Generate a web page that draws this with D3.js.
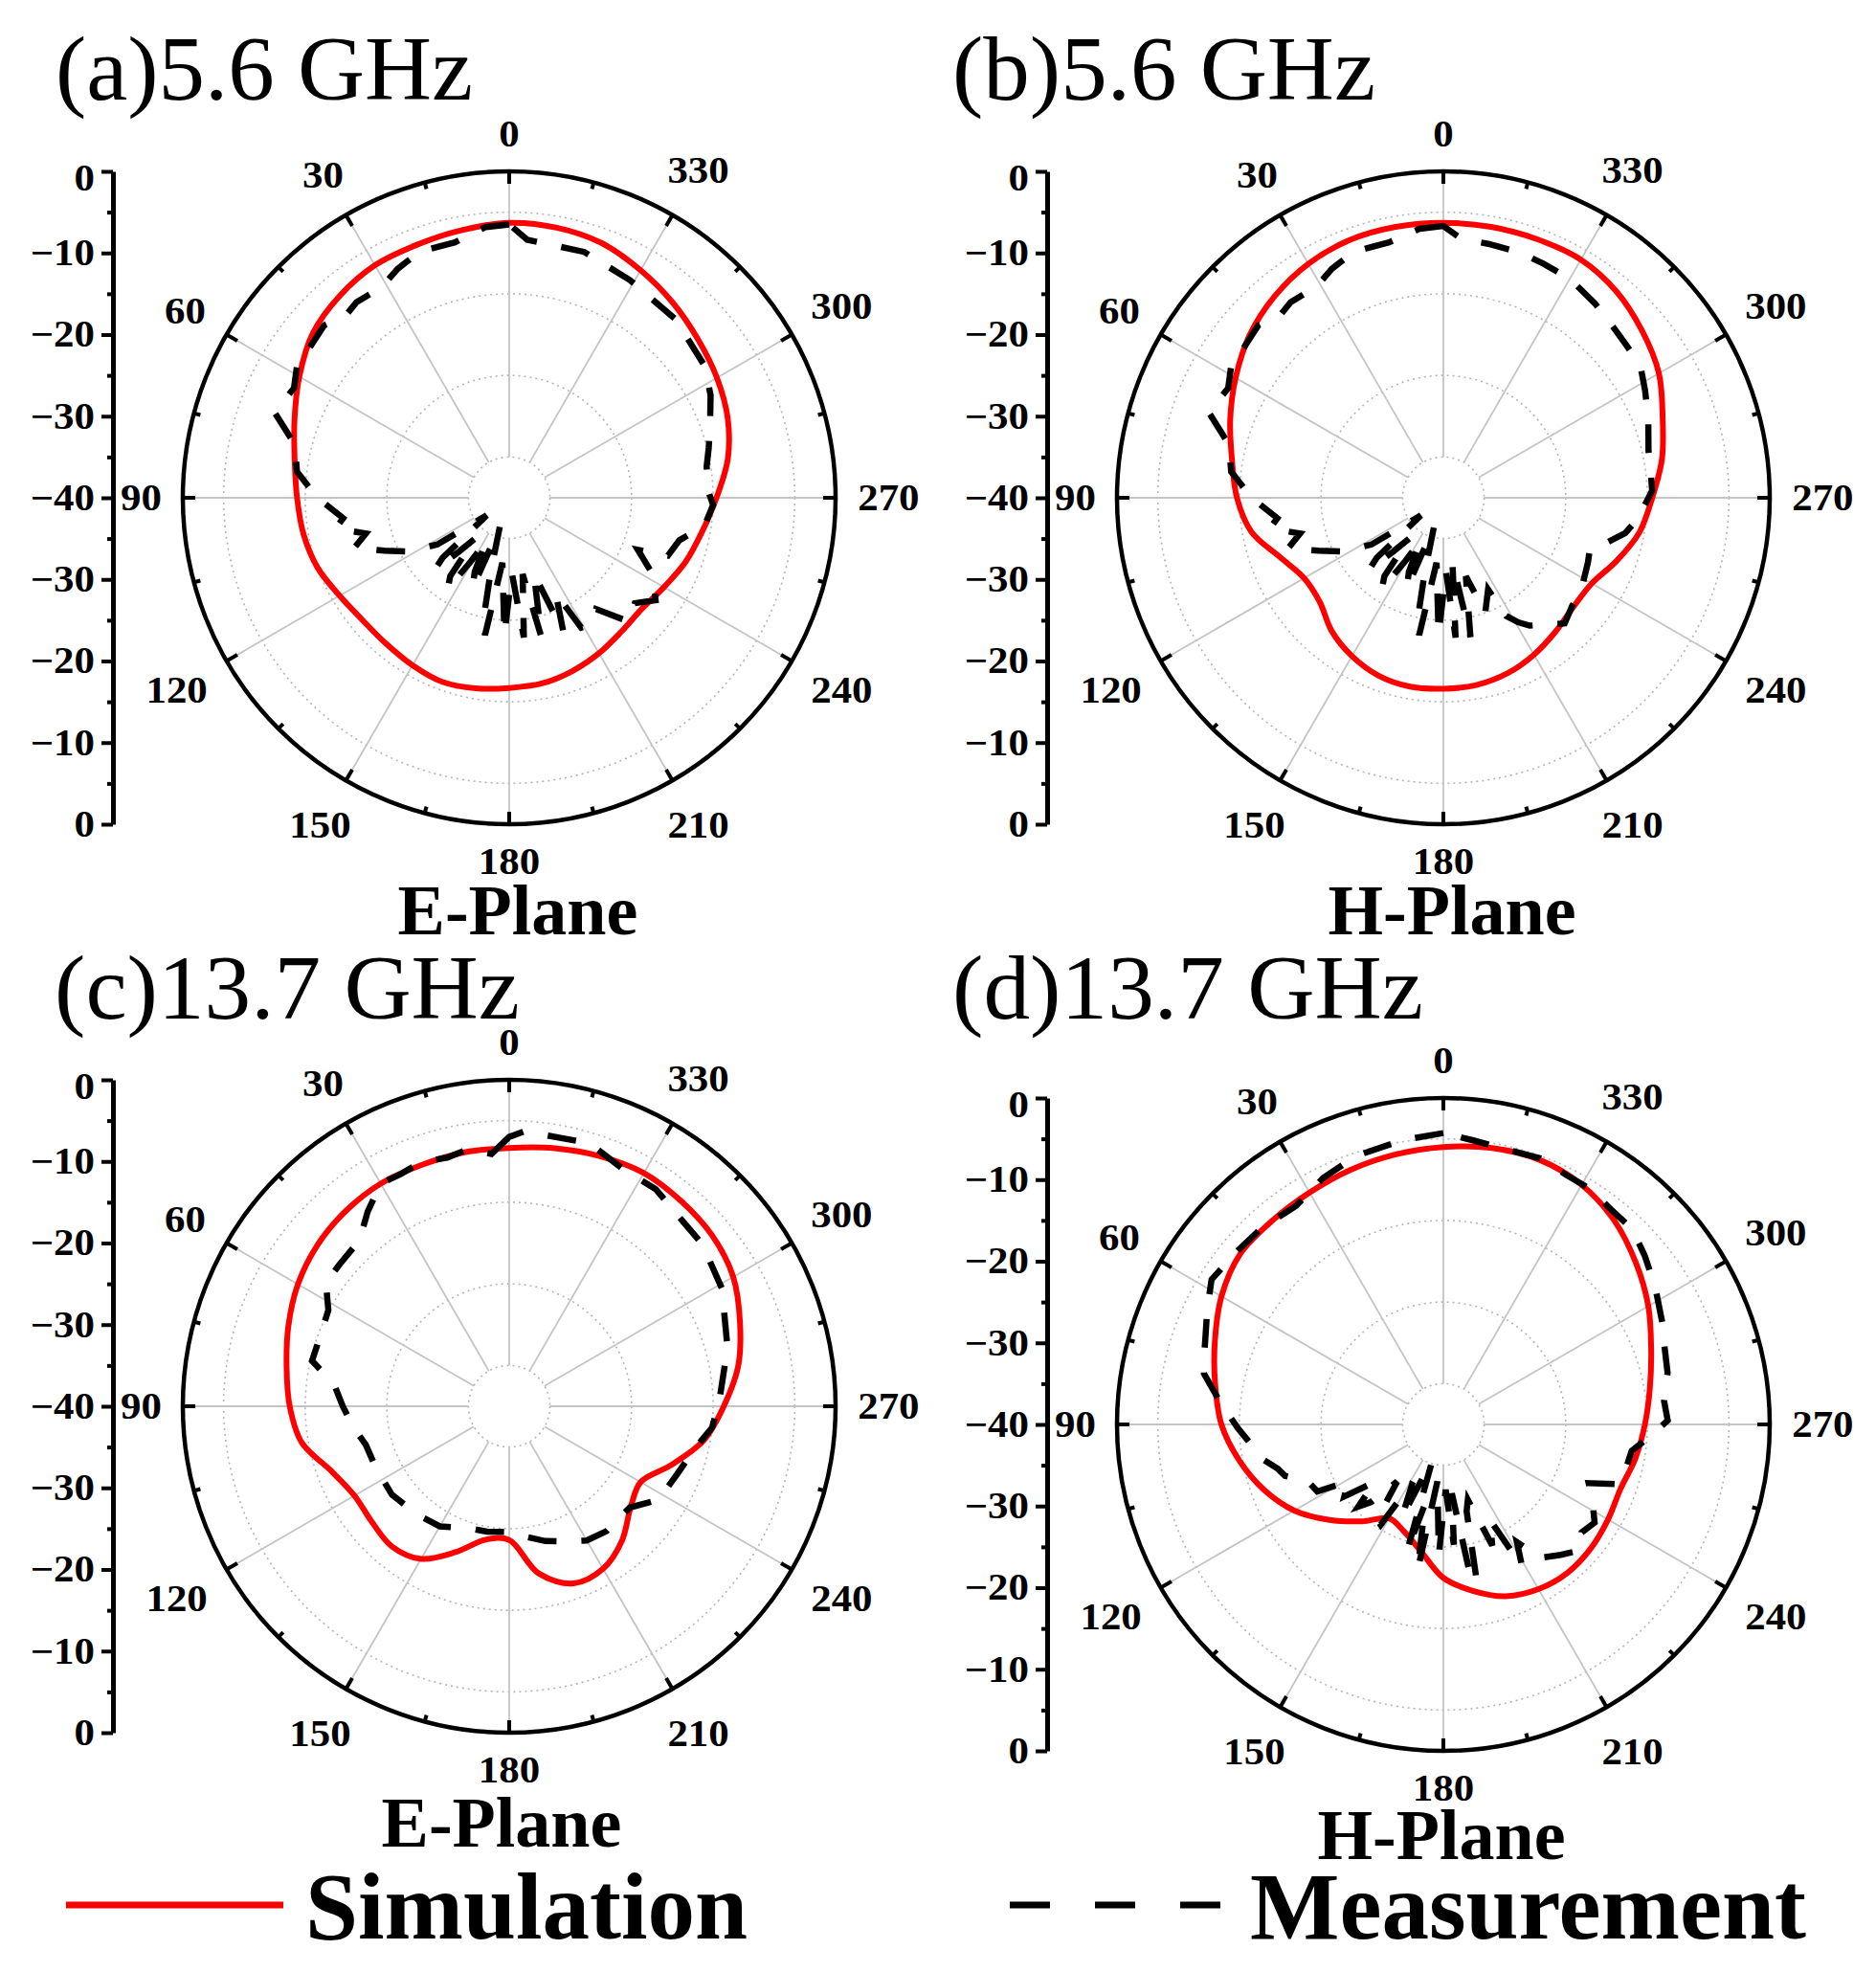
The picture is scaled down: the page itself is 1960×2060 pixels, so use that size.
<!DOCTYPE html>
<html>
<head>
<meta charset="utf-8">
<script src="https://cdn.jsdelivr.net/npm/d3@7"></script>
<style>
  body { margin: 0; background: #fff; }
  svg text { font-family: "Liberation Serif", "Times New Roman", serif; }
</style>
</head>
<body>
<svg id="chart" width="1960" height="2060"></svg>
<script>
// ---- data (dB values) ----
const simAngles = [0, 10, 20, 30, 40, 50, 60, 70, 80, 90, 100, 110, 120, 130, 140, 150, 160, 170,
  180, 190, 200, 210, 220, 230, 240, 250, 260, 270, 280, 290, 300, 310, 320, 330, 340, 350];

const simA = [-6.3, -6.7, -7.0, -7.1, -7.7, -8.6, -10.3, -12.0, -13.3, -14.0, -14.4, -15.0, -16.0, -16.6, -16.6, -16.3, -16.0, -16.3,
  -16.7, -16.9, -17.4, -18.0, -18.6, -18.8, -18.1, -17.0, -16.0, -14.6, -12.8, -11.5, -10.6, -9.8, -8.8, -7.8, -6.8, -6.4];
const simB = [-6.3, -6.3, -6.4, -6.9, -7.8, -9.0, -10.6, -12.2, -13.7, -14.7, -16.1, -18.7, -20.3, -20.2, -18.7, -17.6, -16.8, -16.5,
  -16.6, -16.7, -17.1, -17.8, -18.6, -19.2, -19.0, -17.4, -15.6, -14.4, -12.8, -11.4, -9.5, -8.2, -7.0, -6.3, -6.3, -6.3];
const simC = [-8.35, -8.4, -8.55, -8.5, -8.8, -9.3, -10.1, -11.2, -12.3, -13.1, -14.2, -16.8, -18.1, -18.0, -17.6, -18.4, -21.0, -23.4,
  -23.6, -19.2, -16.9, -17.0, -18.5, -20.6, -21.4, -18.9, -15.8, -13.7, -11.5, -9.9, -8.3, -7.5, -7.2, -7.0, -7.4, -7.9];
const simD = [-6.0, -6.4, -6.8, -7.2, -7.4, -7.5, -8.6, -10.2, -11.6, -12.8, -14.6, -16.6, -18.9, -21.8, -24.5, -26.7, -26.0, -24.2,
  -21.2, -19.3, -17.6, -16.7, -16.3, -16.4, -16.7, -16.9, -16.1, -15.3, -14.3, -12.9, -11.0, -9.2, -7.4, -6.1, -5.5, -5.6];

// measurement: [angle (deg), dB]
const measA = [[0, -6.5], [5, -6.7], [12, -8.0], [20, -7.9], [26, -8.8], [31, -9.8], [38, -9.6], [42, -10.0], [47, -9.0],
  [53, -9.4], [57, -9.1], [63, -10.4], [70, -9.4], [76, -12.9], [83, -13.8], [90, -16.5], [97, -19.5], [100, -18.4],
  [104, -21.9], [108, -20.0], [113, -23.4], [118, -26.0], [123, -29.5], [128, -36.5], [132, -29.0], [134, -27.4],
  [137, -31.0], [140, -33.5], [143, -28.0], [146, -26.5], [149, -31.0], [152, -34.0], [155, -30.0], [158, -28.0],
  [162, -36.3], [166, -30.5], [168, -25.0], [170, -22.9], [174, -32.0], [178, -23.2], [182, -30.8], [186, -22.8],
  [190, -30.5], [193, -22.5], [198, -30.2], [202, -22.3], [206, -27.0], [209, -21.8], [213, -21.5], [218, -22.7],
  [224, -18.9], [230, -19.9], [235, -18.1], [242, -20.1], [248, -23.0], [250, -19.3], [256, -18.5], [262, -15.8],
  [268, -15.0], [272, -15.6], [279, -15.5], [284, -14.8], [290, -13.8], [297, -12.3], [304, -11.1], [317, -10.1],
  [331, -9.5], [343, -8.5], [356, -8.3]];
const measB = [[0, -6.7], [5, -6.9], [12, -8.0], [20, -7.9], [26, -8.8], [31, -9.8], [38, -9.6], [42, -10.0], [47, -9.0],
  [53, -9.4], [57, -9.1], [63, -10.4], [70, -9.4], [76, -12.9], [83, -13.8], [90, -16.5], [97, -19.5], [100, -18.4],
  [104, -21.9], [108, -20.0], [113, -23.4], [118, -26.0], [123, -29.5], [128, -36.5], [132, -29.0], [134, -27.4],
  [137, -31.0], [140, -33.5], [143, -28.0], [146, -26.5], [149, -31.0], [152, -34.0], [155, -30.0], [158, -28.0],
  [162, -36.3], [166, -30.5], [168, -25.0], [170, -22.9], [174, -32.0], [178, -23.2], [182, -31.0], [185, -22.8],
  [188, -32.0], [191, -22.6], [196, -30.0], [200, -25.0], [206, -27.5], [208, -23.6], [211, -22.2], [214, -21.1],
  [219, -20.0], [224, -18.6], [230, -19.4], [236, -19.6], [239, -20.0], [246, -20.6], [251, -21.0], [254, -19.5],
  [259, -17.3], [264, -16.0], [272, -14.4], [277, -14.4], [283, -14.2], [291, -13.1], [298, -12.0], [304, -10.9],
  [310, -10.8], [315, -10.5], [322, -9.8], [330, -9.0], [337, -8.8], [343, -8.5], [350, -8.4], [356, -8.2]];
const measC = [[0, -7.0], [4, -9.0], [9, -8.1], [14, -8.6], [20, -8.2], [25, -8.6], [30, -8.5], [36, -10.5], [42, -12.6],
  [50, -12.9], [56, -12.9], [62, -14.9], [70, -15.3], [77, -15.2], [83, -18.4], [90, -19.6], [98, -20.8], [105, -21.8],
  [115, -22.0], [127, -22.0], [140, -22.6], [150, -23.0], [163, -24.3], [170, -24.4], [180, -24.6], [188, -23.8],
  [195, -22.9], [203, -22.0], [210, -21.0], [218, -20.6], [230, -20.7], [238, -18.4], [248, -17.8], [257, -16.7],
  [264, -15.0], [272, -14.2], [285, -12.3], [299, -10.2], [310, -9.1], [317, -8.9], [326, -7.9], [334, -7.8],
  [343, -6.3], [352, -6.5], [357, -6.3]];
const measD = [[0, -4.3], [8, -4.8], [18, -5.4], [26, -6.4], [34, -7.7], [43, -7.2], [50, -7.0], [58, -6.5], [64, -7.8],
  [69, -8.8], [74, -9.5], [78, -10.0], [84, -12.4], [91, -14.8], [97, -16.6], [101, -17.5], [105, -19.0], [108, -19.6],
  [113, -22.0], [118, -22.5], [121, -26.4], [126, -25.0], [130, -29.0], [134, -25.5], [137, -27.0], [141, -31.0],
  [145, -25.8], [148, -25.5], [152, -32.0], [156, -27.5], [160, -34.0], [163, -35.3], [164, -23.9], [167, -30.0],
  [170, -21.9], [174, -33.0], [178, -24.0], [182, -32.0], [185, -25.2], [187, -31.5], [190, -22.0], [192, -20.2],
  [195, -29.0], [198, -30.3], [202, -24.0], [206, -27.0], [209, -20.1], [212, -23.0], [216, -19.8], [222, -18.5],
  [227, -17.3], [232, -18.5], [237, -17.9], [243, -19.5], [248, -20.8], [251, -17.5], [256, -17.0], [262, -16.7],
  [267, -14.5], [271, -12.5], [276, -12.8], [283, -11.8], [290, -11.2], [295, -10.4], [303, -9.05], [310, -7.8],
  [316, -6.7], [322, -6.6], [328, -6.0], [334, -5.9], [340, -5.3], [348, -5.4], [354, -5.0]];

const angleTicks = [0, 30, 60, 90, 120, 150, 180, 210, 240, 270, 300, 330];
const gridLevels = [-35, -25, -15, -5];
const axisTicks = [0, 10, 20, 30, 40, 50, 60, 70, 80];   // 0 .. -40 .. 0 down the left axis

// ---- layout ----
const panels = [
  { title: '(a)5.6 GHz', plane: 'E-Plane', sim: simA, meas: measA, cx: 532, cy: 520, ax: 118, tx: 58, ty: 104, tw: 436, px: 541, py: 976 },
  { title: '(b)5.6 GHz', plane: 'H-Plane', sim: simB, meas: measB, cx: 1508, cy: 520, ax: 1094, tx: 995, ty: 104, tw: 442, px: 1517, py: 976 },
  { title: '(c)13.7 GHz', plane: 'E-Plane', sim: simC, meas: measC, cx: 532, cy: 1469, ax: 118, tx: 57, ty: 1064, tw: 486, px: 524, py: 1929 },
  { title: '(d)13.7 GHz', plane: 'H-Plane', sim: simD, meas: measD, cx: 1508, cy: 1488, ax: 1094, tx: 995, ty: 1064, tw: 492, px: 1506, py: 1942 }
];

const R = 341;
const labelSize = 39;
const stretch = 1.1;   // the figure's small labels are a little wider than plain Times
const svg = d3.select('#chart');
const r = d3.scaleLinear().domain([-40, 0]).range([0, R]);
const toRad = a => -a * Math.PI / 180;   // angles run counter-clockwise from the top

const simLine = d3.lineRadial()
  .angle((d, i) => toRad(simAngles[i]))
  .radius(d => r(d))
  .curve(d3.curveCatmullRomClosed.alpha(0.5));

const measLine = d3.lineRadial()
  .angle(d => toRad(d[0]))
  .radius(d => r(d[1]))
  .curve(d3.curveLinearClosed);

function widen(sel) {
  sel.each(function () {
    let w = this.getComputedTextLength();
    d3.select(this).attr('textLength', w * stretch).attr('lengthAdjust', 'spacingAndGlyphs');
  });
}

function drawPanel(p) {
  let g = svg.append('g');

  // title + plane name
  g.append('text')
    .attr('x', p.tx).attr('y', p.ty)
    .attr('font-size', 95)
    .attr('textLength', p.tw).attr('lengthAdjust', 'spacingAndGlyphs')
    .text(p.title);

  g.append('text')
    .attr('x', p.px).attr('y', p.py)
    .attr('text-anchor', 'middle')
    .attr('font-size', 74).attr('font-weight', 'bold')
    .text(p.plane);

  let c = g.append('g').attr('transform', 'translate(' + p.cx + ',' + p.cy + ')');

  // dotted rings
  c.selectAll('circle.grid')
    .data(gridLevels)
    .enter().append('circle')
    .attr('class', 'grid')
    .attr('r', d => r(d))
    .attr('fill', 'none')
    .attr('stroke', '#b5b5b5')
    .attr('stroke-width', 1.6)
    .attr('stroke-dasharray', '2,4');

  // spokes
  c.selectAll('line.spoke')
    .data(angleTicks)
    .enter().append('line')
    .attr('class', 'spoke')
    .attr('x1', d => -Math.sin(d * Math.PI / 180) * r(-35))
    .attr('y1', d => -Math.cos(d * Math.PI / 180) * r(-35))
    .attr('x2', d => -Math.sin(d * Math.PI / 180) * R)
    .attr('y2', d => -Math.cos(d * Math.PI / 180) * R)
    .attr('stroke', '#c4c4c4')
    .attr('stroke-width', 1.8);

  // simulation
  c.append('path')
    .attr('d', simLine(p.sim))
    .attr('fill', 'none')
    .attr('stroke', '#ff0000')
    .attr('stroke-width', 6);

  // measurement
  c.append('path')
    .attr('d', measLine(p.meas))
    .attr('fill', 'none')
    .attr('stroke', '#000')
    .attr('stroke-width', 6.5)
    .attr('stroke-dasharray', '30,26');

  // outer ring
  c.append('circle')
    .attr('r', R)
    .attr('fill', 'none')
    .attr('stroke', '#000')
    .attr('stroke-width', 4.5);

  let ringTicks = [];
  for (let a = 0; a < 360; a += 15) ringTicks.push(a);
  c.selectAll('line.rt')
    .data(ringTicks)
    .enter().append('line')
    .attr('class', 'rt')
    .attr('x1', d => -Math.sin(d * Math.PI / 180) * R)
    .attr('y1', d => -Math.cos(d * Math.PI / 180) * R)
    .attr('x2', d => -Math.sin(d * Math.PI / 180) * (R - (d % 30 === 0 ? 13 : 7)))
    .attr('y2', d => -Math.cos(d * Math.PI / 180) * (R - (d % 30 === 0 ? 13 : 7)))
    .attr('stroke', '#000')
    .attr('stroke-width', 4);

  // angle labels, pushed out by half their box
  let ang = c.selectAll('text.ang')
    .data(angleTicks)
    .enter().append('text')
    .attr('class', 'ang')
    .attr('text-anchor', 'middle')
    .attr('dy', '0.34em')
    .attr('font-size', labelSize).attr('font-weight', 'bold')
    .text(d => d);
  widen(ang);
  ang.each(function (d) {
    let ux = -Math.sin(d * Math.PI / 180);
    let uy = -Math.cos(d * Math.PI / 180);
    let w = this.getComputedTextLength() * stretch;
    let dist = R + 20 + Math.abs(ux) * w / 2 + Math.abs(uy) * 19;
    d3.select(this).attr('x', ux * dist).attr('y', uy * dist);
  });

  // left dB axis, mirrored about the centre
  let y = d3.scaleLinear().domain([0, 80]).range([p.cy - R, p.cy + R]);
  let fmt = d => {
    let v = d <= 40 ? d : 80 - d;
    return v === 0 ? '0' : '\u2212' + v;
  };

  let axis = g.append('g')
    .attr('transform', 'translate(' + p.ax + ',0)')
    .call(d3.axisLeft(y).tickValues(axisTicks).tickFormat(fmt).tickSize(12).tickSizeOuter(0).tickPadding(7));
  axis.select('.domain').attr('stroke-width', 5);
  axis.selectAll('.tick line').attr('stroke-width', 4);
  let tickText = axis.selectAll('.tick text')
    .attr('font-family', '"Liberation Serif", "Times New Roman", serif')
    .attr('font-size', labelSize).attr('font-weight', 'bold').attr('fill', '#000');
  widen(tickText);
  tickText.filter(d => d === 0).attr('y', 7);

  let minor = g.append('g')
    .attr('transform', 'translate(' + p.ax + ',0)')
    .call(d3.axisLeft(y).tickValues([5, 15, 25, 35, 45, 55, 65, 75]).tickFormat('').tickSize(6).tickSizeOuter(0));
  minor.select('.domain').remove();
  minor.selectAll('.tick line').attr('stroke-width', 4);
}

panels.forEach(drawPanel);

// ---- legend ----
let legend = svg.append('g');
legend.append('line')
  .attr('x1', 69).attr('x2', 296).attr('y1', 1990).attr('y2', 1990)
  .attr('stroke', '#ff0000').attr('stroke-width', 7);
legend.append('text')
  .attr('x', 319).attr('y', 2025)
  .attr('font-size', 99).attr('font-weight', 'bold')
  .text('Simulation');
legend.append('line')
  .attr('x1', 1055).attr('x2', 1275).attr('y1', 1990).attr('y2', 1990)
  .attr('stroke', '#000').attr('stroke-width', 7)
  .attr('stroke-dasharray', '42,47');
legend.append('text')
  .attr('x', 1306).attr('y', 2025)
  .attr('font-size', 99).attr('font-weight', 'bold')
  .text('Measurement');
</script>
</body>
</html>
